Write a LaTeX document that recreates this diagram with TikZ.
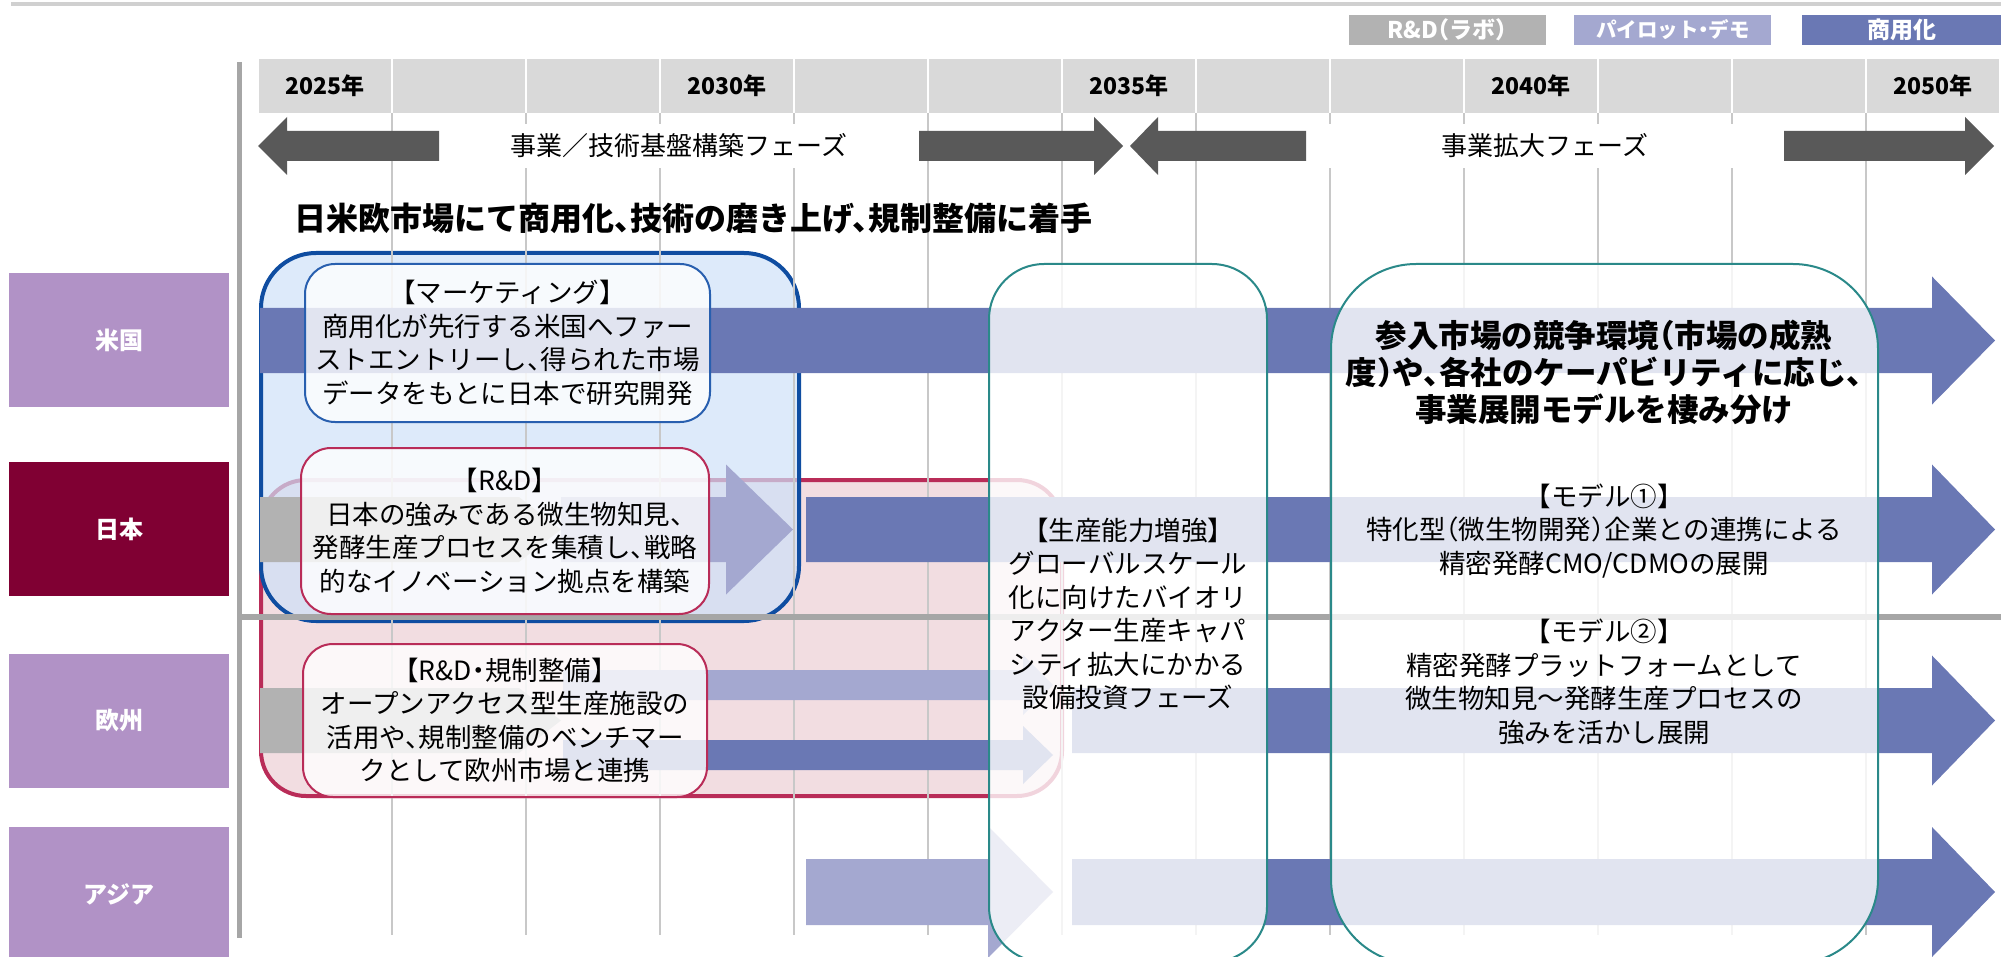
\documentclass[tikz,border=0pt]{standalone}
\usepackage{fontspec}
\setmainfont{Noto Sans CJK JP}[RawFeature=+halt]
\usetikzlibrary{positioning}

\definecolor{headgray}{RGB}{217,217,217}
\definecolor{gridgray}{RGB}{200,200,200}
\definecolor{axisgray}{RGB}{166,166,166}
\definecolor{topgray}{RGB}{208,208,208}
\definecolor{phasegray}{RGB}{89,89,89}
\definecolor{labgray}{RGB}{178,178,178}
\definecolor{pilot}{RGB}{164,168,208}
\definecolor{comm}{RGB}{106,120,180}
\definecolor{rowpurple}{RGB}{177,146,198}
\definecolor{jpred}{RGB}{128,0,51}
\definecolor{boxblue}{RGB}{15,77,161}
\definecolor{boxbluefill}{RGB}{206,225,248}
\definecolor{mktblue}{RGB}{40,95,175}
\definecolor{crimson}{RGB}{185,44,88}
\definecolor{pinkfill}{RGB}{242,221,225}
\definecolor{tealline}{RGB}{42,137,137}

% shaft from #2, tip at #3, head starts at #4, centre #5, half shaft #6, half head #7
\newcommand{\bararrow}[7]{\fill[#1] (#2,#5-#6) -- (#4,#5-#6) -- (#4,#5-#7) -- (#3,#5) -- (#4,#5+#7) -- (#4,#5+#6) -- (#2,#5+#6) -- cycle;}

\begin{document}
\begin{tikzpicture}[x=1pt, y=-1pt, node distance=28pt]

% Define styles
\tikzstyle{yearlabel} = [font=\fontsize{23}{26}\selectfont\bfseries]
\tikzstyle{legendbox} = [rectangle, text=white, minimum width=197pt, minimum height=30pt, inner sep=0pt, font=\fontsize{23}{26}\selectfont\bfseries]
\tikzstyle{rowlabel} = [rectangle, fill=rowpurple, text=white, minimum width=220pt, minimum height=134pt, font=\fontsize{24}{28}\selectfont\bfseries]
\tikzstyle{textbox} = [rectangle, rounded corners=30pt, fill=white, fill opacity=0.8, text opacity=1, line width=2pt, align=center, inner sep=0pt, font=\fontsize{26.5}{33.5}\selectfont]
\tikzstyle{tealbox} = [draw=tealline, line width=2pt, fill=white, fill opacity=0.8]
\tikzstyle{note} = [align=center, font=\fontsize{26.5}{33.5}\selectfont]
\tikzstyle{phase} = [fill=white, minimum width=470pt, minimum height=44pt, font=\fontsize{26}{30}\selectfont]
\tikzstyle{gridline} = [draw=gridgray, line width=2pt]

\useasboundingbox (0,0) rectangle (2001,957);

% Frame lines and header
\draw[topgray, line width=4pt] (11,4) -- (2001,4);
\foreach \i in {0,...,12}
  \fill[headgray] (258+134*\i+1,59) rectangle (258+134*\i+133,113);
\foreach \i/\yr in {0/2025,3/2030,6/2035,9/2040,12/2050}
  \node[yearlabel] (y\yr) at (258+134*\i+67,86) {\yr 年};

% Legend
\node[legendbox, fill=labgray] (lab) at (1447.5,30) {R\&D（ラボ）};
\node[legendbox, fill=pilot, right=of lab, font=\fontsize{20.5}{24}\selectfont\bfseries] (demo) {パイロット・デモ};
\node[legendbox, fill=comm, minimum width=200pt, right=30pt of demo] (biz) {商用化};

% Group boxes
\draw[crimson, line width=4pt, fill=pinkfill, rounded corners=45pt] (261,480) rectangle (1062,796);
\draw[boxblue, line width=4pt, fill=boxbluefill, fill opacity=0.7, rounded corners=55pt] (261,253) rectangle (799,621);

% Grid
\foreach \i in {1,...,12}
  \draw[gridline] (258+134*\i,113) -- (258+134*\i,935);
\draw[axisgray, line width=5pt] (239,62) -- (239,938);
\draw[axisgray, line width=6pt] (242,617) -- (2001,617);

% Phases
\node[phase] (ph1) at (679,146) {事業／技術基盤構築フェーズ};
\node[phase] (ph2) at (1545,146) {事業拡大フェーズ};
\bararrow{phasegray}{439}{258}{287}{146}{15}{29}
\bararrow{phasegray}{919}{1123}{1094}{146}{15}{29}
\bararrow{phasegray}{1306}{1130}{1158}{146}{15}{29}
\bararrow{phasegray}{1784}{1994}{1965}{146}{15}{29}

% Title
\node[anchor=west, font=\fontsize{32}{36}\selectfont\bfseries] (goal) at (291,218) {日米欧市場にて商用化、技術の磨き上げ、規制整備に着手};

% Row labels
\node[rowlabel] (us) at (119,340) {米国};
\node[rowlabel, fill=jpred, below=55pt of us] (jp) {日本};
\node[rowlabel, below=57pt of jp] (eu) {欧州};
\node[rowlabel, below=39pt of eu] (asia) {アジア};

% Bars
\bararrow{comm}{260}{1995}{1932}{340.5}{32.5}{64}
\bararrow{labgray}{260}{561}{519}{529.5}{32.5}{32.5}
\bararrow{pilot}{561}{793}{726}{529.5}{32.5}{65}
\bararrow{comm}{806}{1995}{1932}{529.5}{32.5}{65}
\bararrow{labgray}{260}{561}{519}{720.5}{32.5}{32.5}
\bararrow{pilot}{563}{1053}{1023}{685}{15}{30}
\bararrow{comm}{563}{1053}{1023}{755}{15}{29}
\bararrow{comm}{1072}{1995}{1932}{720.5}{32.5}{65}
\bararrow{pilot}{806}{1053}{988}{892}{33}{66}
\bararrow{comm}{1072}{1995}{1932}{892}{33}{65}

% Text boxes
\node[textbox, draw=mktblue, minimum width=405pt, minimum height=158pt] (mkt) at (507.5,343) {【マーケティング】\\商用化が先行する米国へファー\\ストエントリーし、得られた市場\\データをもとに日本で研究開発};
\node[textbox, draw=crimson, minimum width=408pt, minimum height=166pt] (rdjp) at (505,531) {【R\&D】\\日本の強みである微生物知見、\\発酵生産プロセスを集積し、戦略\\的なイノベーション拠点を構築};
\node[textbox, draw=crimson, minimum width=404pt, minimum height=153pt] (rdeu) at (505,720.5) {【R\&D・規制整備】\\オープンアクセス型生産施設の\\活用や、規制整備のベンチマー\\クとして欧州市場と連携};

% Phase boxes
\draw[tealbox, rounded corners=55pt] (989,264) rectangle (1267,962);
\draw[tealbox, rounded corners=85pt] (1331,264) rectangle (1878,964);

\node[note] (capex) at (1128,614) {【生産能力増強】\\グローバルスケール\\化に向けたバイオリ\\アクター生産キャパ\\シティ拡大にかかる\\設備投資フェーズ};
\node[note, font=\fontsize{31.5}{37}\selectfont\bfseries] (policy) at (1604,372) {参入市場の競争環境（市場の成熟\\度）や、各社のケーパビリティに応じ、\\事業展開モデルを棲み分け};
\node[note] (model1) at (1604,531) {【モデル①】\\特化型（微生物開発）企業との連携による\\精密発酵CMO/CDMOの展開};
\node[note] (model2) at (1604,682) {【モデル②】\\精密発酵プラットフォームとして\\微生物知見～発酵生産プロセスの\\強みを活かし展開};

\end{tikzpicture}
\end{document}
